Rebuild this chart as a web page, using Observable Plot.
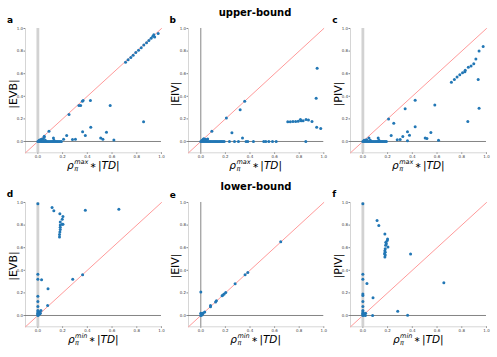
<!DOCTYPE html>
<html><head><meta charset="utf-8">
<script src="https://cdn.jsdelivr.net/npm/d3@7"></script>
<script src="https://cdn.jsdelivr.net/npm/@observablehq/plot@0.6"></script>
<style>
body{margin:0;background:#fff;}
#chart{position:relative;width:497px;height:357px;overflow:hidden;font-family:"DejaVu Sans",sans-serif;color:#000;}
.abs{position:absolute;white-space:nowrap;line-height:1;}
.title{font-weight:bold;font-size:10px;transform:translate(-50%,-50%);}
.letter{font-weight:bold;font-size:9px;transform:translate(-50%,-50%);}
.ylab{font-size:11px;transform:translate(-50%,-50%) rotate(-90deg);}
.xlab{font-size:10.5px;transform:translate(-50%,0);}
.xlab i{font-style:italic;}
.ast{font-size:8px;vertical-align:1px;margin:0 1.5px;}
.ss{display:inline-flex;flex-direction:column;vertical-align:middle;font-size:6.5px;font-style:italic;line-height:1;margin-left:0.5px;}
</style></head>
<body><div id="chart"></div>
<script>
// ---- text / tick data ----
const ticks = [0, 0.2, 0.4, 0.6, 0.8, 1.0];
const domain = [-0.1, 1.0];
const rowTitles = ["upper-bound", "lower-bound"];
const panelLetters = ["a", "b", "c", "d", "e", "f"];
const yLabels = ["|EVB|", "|EIV|", "|PIV|"];
const boundNames = ["max", "min"];

// ---- upper-bound panels: [rho_max*|TD|, value] ----
const upperEVB = [
  [0.00,0],[0.01,0],[0.02,0],[0.03,0],[0.04,0],[0.05,0],[0.06,0],[0.07,0],[0.08,0],[0.09,0],
  [0.10,0],[0.11,0],[0.12,0],[0.13,0],[0.14,0],[0.15,0],[0.16,0],[0.17,0],[0.18,0],[0.19,0],
  [0.01,0.01],[0.02,0.015],[0.03,0.02],[0.04,0.02],[0.05,0.035],[0.052,0.046],[0.06,0.01],
  [0.126,0.03],[0.13,0.01],[0.09,0.09],
  [0.208,0.02],[0.233,0.052],[0.252,0.238],[0.28,0.017],[0.304,0.02],[0.332,0.319],[0.346,0.319],
  [0.36,0.357],[0.366,0.362],[0.362,0.087],[0.384,0.052],[0.425,0.362],[0.428,0.125],
  [0.508,0.03],[0.526,0.02],[0.555,0.081],[0.585,0.319],[0.615,0.014],[0.855,0.174],
  [0.709,0.702],[0.73,0.723],[0.752,0.743],[0.771,0.764],[0.792,0.788],[0.814,0.808],
  [0.836,0.829],[0.857,0.853],[0.879,0.873],[0.898,0.894],[0.916,0.914],[0.93,0.932],
  [0.938,0.944],[0.945,0.925],[0.973,0.956]
];
const upperEIV = [
  [0.00,0],[0.01,0],[0.02,0],[0.03,0],[0.04,0],[0.05,0],[0.06,0],[0.07,0],[0.08,0],[0.09,0],
  [0.10,0],[0.11,0],[0.12,0],[0.13,0],[0.14,0],[0.15,0],[0.16,0],[0.17,0],[0.18,0],[0.19,0],
  [0.233,0],[0.274,0],[0.306,0],[0.368,0],[0.382,0],[0.428,0],[0.512,0],[0.528,0],
  [0.553,0],[0.583,0],[0.613,0],[0.854,0],
  [0.01,0.01],[0.02,0.02],[0.025,0.025],[0.035,0.02],[0.056,0.023],[0.045,0.015],
  [0.09,0.09],[0.208,0.209],[0.32,0.28],[0.357,0.357],[0.253,0.078],[0.339,0.032],
  [0.707,0.174],[0.728,0.175],[0.749,0.177],[0.771,0.178],[0.792,0.18],[0.81,0.194],
  [0.816,0.183],[0.832,0.183],[0.856,0.194],[0.875,0.191],[0.904,0.177],
  [0.938,0.383],[0.946,0.649],[0.942,0.127],[0.975,0.116]
];
const upperPIV = [
  [0.00,0],[0.01,0],[0.02,0],[0.03,0],[0.04,0],[0.05,0],[0.06,0],[0.07,0],[0.08,0],[0.09,0],
  [0.10,0],[0.11,0],[0.12,0],[0.13,0],[0.14,0],[0.15,0],[0.16,0],[0.17,0],[0.18,0],[0.19,0],
  [0.01,0.01],[0.02,0.012],[0.03,0.015],[0.049,0.03],[0.06,0.01],[0.124,0.032],[0.13,0.01],
  [0.208,0.2],[0.25,0.162],[0.229,0.053],[0.278,0.015],[0.302,0.018],[0.323,0.044],
  [0.342,0.289],[0.361,0.086],[0.361,0.006],[0.377,0.056],[0.423,0.366],[0.423,0.13],
  [0.504,0.032],[0.518,0.027],[0.55,0.08],[0.582,0.324],[0.612,0.012],[0.849,0.177],
  [0.716,0.525],[0.74,0.549],[0.762,0.57],[0.784,0.591],[0.806,0.609],[0.825,0.618],
  [0.828,0.63],[0.853,0.657],[0.875,0.669],[0.897,0.687],[0.914,0.729],[0.94,0.8],
  [0.973,0.84],[0.933,0.549],[0.94,0.295]
];

// ---- lower-bound panels: [rho_min*|TD|, value] ----
const lowerEVB = [
  [0,0.988],[0.115,0.956],[0.129,0.926],[0.178,0.90],[0.203,0.876],[0.197,0.852],
  [0.181,0.828],[0.197,0.808],[0.203,0.808],[0.181,0.80],[0.181,0.78],[0.181,0.76],
  [0.178,0.74],[0.175,0.716],[0.175,0.695],[0.384,0.932],[0.655,0.94],
  [0,0.364],[0,0.32],[0.03,0.317],[0.282,0.32],[0.362,0.361],[0.082,0.237],
  [0,0.17],[0,0.124],[0,0.08],[0,0.044],[0.079,0.089],[0.025,0.044],[0.016,0.03],
  [0,0.03],[0,0.02],[0,0.01],[0,0],[0.005,0.005],[0.01,0.01],[0.015,0.015],[0.01,0.02],[0.02,0.02]
];
const lowerEIV = [
  [0,0.209],[0.65,0.652],[0.382,0.38],[0.36,0.36],[0.279,0.28],[0.203,0.204],[0.19,0.19],
  [0.18,0.182],[0.173,0.175],[0.127,0.13],[0.12,0.12],[0.079,0.088],[0.079,0.077],
  [0.032,0.032],[0.02,0.022],[0.01,0.015],[0.005,0.01],[0,0.02],[0,0],[0.01,0.005],[0.015,0.015]
];
const lowerPIV = [
  [0,0.988],[0.115,0.84],[0.129,0.796],[0.178,0.722],[0.2,0.677],[0.197,0.663],[0.186,0.648],
  [0.19,0.635],[0.184,0.621],[0.203,0.607],[0.181,0.59],[0.178,0.574],[0.181,0.56],[0.175,0.547],
  [0.178,0.518],[0.181,0.535],[0.386,0.544],[0.655,0.29],
  [0,0.364],[0,0.32],[0.033,0.284],[0,0.19],[0,0.178],[0.082,0.157],[0,0.124],[0,0.08],[0,0.044],
  [0.282,0.038],[0.362,0.003],[0.079,0],[0.022,0.02],[0.016,0.015],
  [0,0.03],[0,0.02],[0,0.01],[0,0],[0.005,0.005],[0.01,0.01],[0.02,0]
];

const panelData = [upperEVB, upperEIV, upperPIV, lowerEVB, lowerEIV, lowerPIV];

// ---- layout (page px of each plot area) ----
const colX = [[25.3,161.3],[188,323.3],[350.3,486.3]];
const rowY = [[28.3,152.6],[202.3,326.6]];
const chart = document.getElementById("chart");

function addDiv(cls, html, left, top) {
  const d = document.createElement("div");
  d.className = "abs " + cls;
  d.innerHTML = html;
  d.style.left = left + "px";
  d.style.top = top + "px";
  chart.appendChild(d);
  return d;
}

panelData.forEach((data, i) => {
  const row = Math.floor(i / 3), col = i % 3;
  const [x0, x1] = colX[col];
  const [y0, y1] = rowY[row];
  const left = x0 - 22, top = y0 - 5;
  const width = (x1 + 4) - left, height = (y1 + 9) - top;
  const thinV = col === 1;
  const svg = Plot.plot({
    width, height,
    marginLeft: x0 - left, marginRight: left + width - x1,
    marginTop: y0 - top, marginBottom: top + height - y1,
    x: {domain, label: null},
    y: {domain, label: null},
    style: {fontFamily: "DejaVu Sans", fontSize: "4px", background: "transparent", overflow: "visible"},
    marks: [
      Plot.axisX({ticks, tickFormat: d3.format(".1f"), tickSize: 1.5, tickPadding: 1, fontSize: 4, stroke: "#888", fill: "#444", label: null}),
      Plot.axisY({ticks, tickFormat: d3.format(".1f"), tickSize: 1.5, tickPadding: 1, fontSize: 4, stroke: "#888", fill: "#444", label: null}),
      Plot.ruleX([domain[0]], {stroke: "#aaa", strokeWidth: 0.5}),
      Plot.ruleY([domain[0]], {stroke: "#aaa", strokeWidth: 0.5}),
      Plot.line(domain.map(v => ({v})), {x: "v", y: "v", stroke: "#ff8f8f", strokeWidth: 0.9}),
      Plot.ruleX([0], thinV ? {stroke: "#777", strokeWidth: 0.9} : {stroke: "#d2d2d2", strokeWidth: 2.8}),
      Plot.ruleY([0], {stroke: "#777", strokeWidth: 0.9}),
      Plot.dot(data, {x: d => d[0], y: d => d[1], r: 1.5, fill: "#2277b5", stroke: "none"})
    ]
  });
  svg.style.position = "absolute";
  svg.style.left = left + "px";
  svg.style.top = top + "px";
  chart.appendChild(svg);

  // panel letter
  const letterPos = [[10,20],[172.8,20],[334.8,20],[10,194],[172.8,194.7],[334.2,194]][i];
  addDiv("letter", panelLetters[i], letterPos[0], letterPos[1]);
  // y label
  const ylx = [12.5, 175, 338][col];
  const yly = (y0 + y1) / 2 + (row === 0 ? 4 : 2);
  addDiv("ylab", yLabels[col], ylx, yly);
  // x label
  const xl = `<i>ρ</i><span class="ss"><span>${boundNames[row]}</span><span>π</span></span><span class="ast">∗</span>|<i>TD</i>|`;
  addDiv("xlab", xl, (x0 + x1) / 2, y1 + 6.5);
});

addDiv("title", rowTitles[0], 255, 13);
addDiv("title", rowTitles[1], 256, 187);
</script></body></html>
